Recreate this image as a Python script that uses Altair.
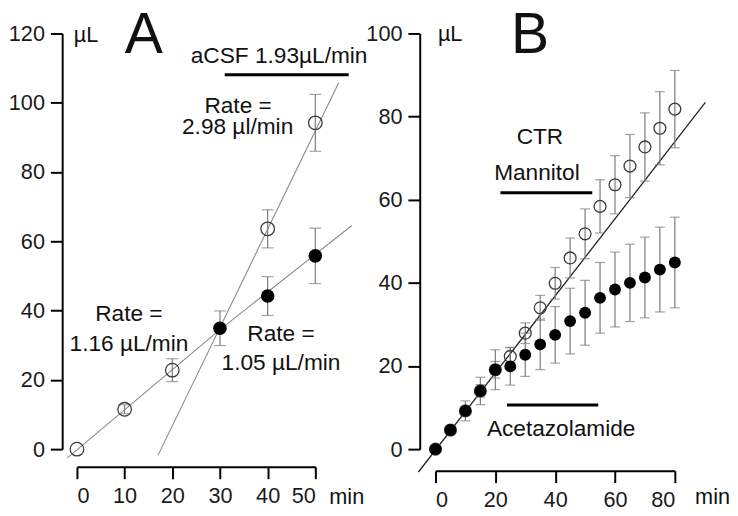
import altair as alt
import pandas as pd

FONT = "Liberation Sans"

# ---------------- Panel A ----------------
a_open_t = [0, 10, 20, 40, 50]
a_open_v = [0, 11.5, 22.8, 63.6, 94.2]
a_open_e = [0, 1.3, 3.3, 5.5, 8.2]
a_fill_t = [30, 40, 50]
a_fill_v = [34.9, 44.2, 55.8]
a_fill_e = [5.0, 5.6, 8.0]
a_fit1_t = [-2.0, 30.0, 57.6]
a_fit1_v = [-2.5, 34.5, 64.5]
a_fit2_t = [17.0, 54.9]
a_fit2_v = [-1.8, 105.8]
a_bar_t0, a_bar_t1, a_bar_v = [31.0], [57.0], [108.1]
a_text = ["Rate =", "2.98 \u00b5l/min", "Rate =", "1.16 \u00b5L/min", "Rate =",
          "1.05 \u00b5L/min", "aCSF 1.93\u00b5L/min", "A", "\u00b5L", "min"]
a_text_t = [33.8, 33.7, 10.9, 10.9, 42.8, 42.8, 42.4, 14.0, 1.9, 56.6]
a_text_v = [99.0, 93.0, 39.0, 30.4, 33.3, 24.7, 113.5, 119.1, 119.4, -13.9]
a_text_fs = [23, 23, 23, 23, 23, 23, 23, 58, 22, 22]
a_xticks = [0, 10, 20, 30, 40, 50]
a_yticks = [0, 20, 40, 60, 80, 100, 120]

# ---------------- Panel B ----------------
b_t = [0, 5, 10, 15, 20, 25, 30, 35, 40, 45, 50, 55, 60, 65, 70, 75, 80]
b_acet_v = [0, 4.6, 9.2, 14.0, 19.1, 19.9, 22.7, 25.2, 27.5, 30.8, 32.8, 36.4,
            38.4, 40.0, 41.3, 43.2, 44.9]
b_acet_e = [0, 0.8, 2.4, 3.3, 4.8, 4.5, 5.2, 6.1, 6.8, 7.9, 7.8, 8.5, 9.0, 9.3,
            9.7, 10.2, 10.9]
b_ctr_v = [0, 4.6, 9.2, 14.0, 19.1, 22.3, 27.9, 34.0, 39.9, 46.0, 51.8, 58.4,
           63.6, 68.1, 72.7, 77.2, 81.8]
b_ctr_e = [0, 0.5, 1.0, 1.5, 2.0, 2.2, 2.5, 3.0, 3.8, 4.8, 6.0, 6.4, 7.0, 7.6,
           8.2, 8.8, 9.3]
b_fit_t = [-5.7, 90.2]
b_fit_v = [-5.5, 83.4]
b_bar_t0, b_bar_t1, b_bar_v = [21.7, 23.9], [52.4, 54.4], [61.7, 10.6]
b_text = ["CTR", "Mannitol", "Acetazolamide", "B", "\u00b5L", "min"]
b_text_t = [34.9, 33.9, 42.0, 31.6, 4.9, 92.6]
b_text_v = [75.1, 66.3, 4.8, 99.27, 99.8, -11.6]
b_text_fs = [23, 23, 23, 58, 22, 22]
b_xticks = [0, 20, 40, 60, 80]
b_yticks = [0, 20, 40, 60, 80, 100]


def err_frames(t, v, e):
    rows = [(ti, vi - ei, vi + ei) for ti, vi, ei in zip(t, v, e) if ei > 0]
    df = pd.DataFrame(rows, columns=["x", "lo", "hi"])
    caps = pd.DataFrame({"x": list(df["x"]) * 2, "y": list(df["lo"]) + list(df["hi"])})
    return df, caps


def panel(xdom, ydom, xticks, yticks, xoff, yoff, w, h,
          fits, open_pts, fill_pts, bars, texts, psize, capw):
    X = alt.X("x:Q", scale=alt.Scale(domain=xdom, nice=False, zero=False),
              axis=alt.Axis(values=xticks, offset=xoff, labelPadding=7, title=None))
    Y = alt.Y("y:Q", scale=alt.Scale(domain=ydom, nice=False, zero=False),
              axis=alt.Axis(values=yticks, offset=yoff, labelPadding=6, title=None))
    layers = []
    for (ft, fv, col, sw) in fits:
        layers.append(alt.Chart(pd.DataFrame({"x": ft, "y": fv})).mark_line(
            color=col, strokeWidth=sw).encode(x=X, y=Y, order="x:Q"))
    for (t, v, e) in (open_pts, fill_pts):
        df, caps = err_frames(t, v, e)
        layers.append(alt.Chart(df).mark_rule(color="#7a7a7a", strokeWidth=1.2).encode(
            x=X, y=alt.Y("lo:Q", scale=alt.Scale(domain=ydom, nice=False, zero=False)),
            y2="hi:Q"))
        layers.append(alt.Chart(caps).mark_tick(orient="horizontal", size=capw,
                                                thickness=1.2, color="#7a7a7a").encode(x=X, y=Y))
    t, v, _ = open_pts
    layers.append(alt.Chart(pd.DataFrame({"x": t, "y": v})).mark_point(
        shape="circle", filled=False, size=psize, strokeWidth=1.3, color="#3c3c3c",
        opacity=1).encode(x=X, y=Y))
    t, v, _ = fill_pts
    layers.append(alt.Chart(pd.DataFrame({"x": t, "y": v})).mark_circle(
        size=psize, color="black", opacity=1).encode(x=X, y=Y))
    t0, t1, bv = bars
    layers.append(alt.Chart(pd.DataFrame({"x": t0, "x2": t1, "y": bv})).mark_rule(
        color="black", strokeWidth=3).encode(x=X, x2="x2:Q", y=Y))
    lab, lt, lv, fs = texts
    layers.append(alt.Chart(pd.DataFrame({"x": lt, "y": lv, "label": lab, "fs": fs})).mark_text(
        align="center", baseline="middle", color="#111111", font=FONT).encode(
        x=X, y=Y, text="label:N", size=alt.Size("fs:Q", scale=None)))
    return alt.layer(*layers).properties(width=w, height=h)


A = panel([0, 50], [0, 120], a_xticks, a_yticks, 18, 15, 242, 422,
          [(a_fit1_t, a_fit1_v, "#8a8a8a", 1.1), (a_fit2_t, a_fit2_v, "#8a8a8a", 1.1)],
          (a_open_t, a_open_v, a_open_e), (a_fill_t, a_fill_v, a_fill_e),
          (a_bar_t0, a_bar_t1, a_bar_v),
          (a_text, a_text_t, a_text_v, a_text_fs), 190, 12)

B = panel([0, 80], [0, 100], b_xticks, b_yticks, 22, 16, 243, 422,
          [(b_fit_t, b_fit_v, "#222222", 1.3)],
          (b_t, b_ctr_v, b_ctr_e), (b_t, b_acet_v, b_acet_e),
          (b_bar_t0, b_bar_t1, b_bar_v),
          (b_text, b_text_t, b_text_v, b_text_fs), 145, 10)

chart = alt.hconcat(A, B, spacing=122, bounds="flush",
                    padding={"top": -4, "left": 0, "right": 0, "bottom": 0}).configure_view(
    stroke=None).configure_axis(
    domainColor="black", domainWidth=2, tickColor="black", tickWidth=2, tickSize=12,
    labelFontSize=22, labelFont=FONT, labelColor="#1a1a1a", grid=False)

chart.save("out.html", embed_options={"renderer": "svg", "actions": False})
